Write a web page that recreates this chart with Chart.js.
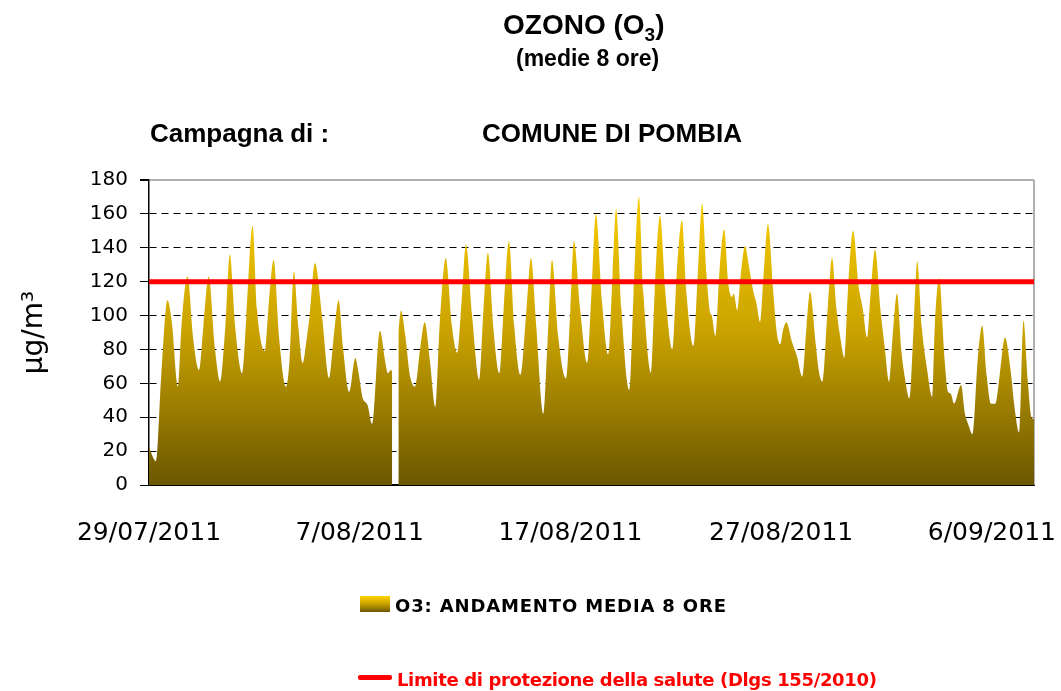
<!DOCTYPE html>
<html>
<head>
<meta charset="utf-8">
<title>Ozono - medie 8 ore</title>
<script src="https://cdn.jsdelivr.net/npm/chart.js@4/dist/chart.umd.min.js"></script>
<style>
  html, body { margin: 0; padding: 0; background: #fff; }
  body { width: 1061px; height: 691px; position: relative; overflow: hidden; }
  #chart { position: absolute; left: 0; top: 0; }
  .txt { position: absolute; white-space: nowrap; font-family: "Liberation Sans", Arial, sans-serif; font-weight: bold; color: #000; }
  #title { left: 503px; top: 11px; font-size: 28px; line-height: 28px; }
  #title span { font-size: 19px; position: relative; top: 7px; }
  #subtitle { left: 516px; top: 47px; font-size: 23px; line-height: 23px; }
  #campagna { left: 150px; top: 120px; font-size: 26px; line-height: 26px; }
  #comune { left: 482px; top: 120px; font-size: 26px; line-height: 26px; }
  .leg { position: absolute; white-space: nowrap; font-family: "DejaVu Sans", sans-serif; font-weight: bold; font-size: 18px; line-height: 18px; }
  #leg1 { left: 395px; top: 597px; color: #000; letter-spacing: 0.85px; }
  #leg2 { left: 397px; top: 671px; color: #ff0000; letter-spacing: -0.35px; }
  #sw1 { position: absolute; left: 360px; top: 596px; width: 30px; height: 16px; background: linear-gradient(#ffd200, #c9a200 50%, #6b5600); }
  #sw2 { position: absolute; left: 358px; top: 675px; width: 34px; height: 5px; background: #ff0000; border-radius: 2px; }
</style>
</head>
<body>
<canvas id="chart" width="1061" height="691"></canvas>
<div class="txt" id="title">OZONO (O<span>3</span>)</div>
<div class="txt" id="subtitle">(medie 8 ore)</div>
<div class="txt" id="campagna">Campagna di :</div>
<div class="txt" id="comune">COMUNE DI POMBIA</div>
<div id="sw1"></div><div class="leg" id="leg1"></div>
<div id="sw2"></div><div class="leg" id="leg2"></div>
<script>
// Ore dall'inizio della campagna (29/07/2011) e media mobile 8 ore di O3 (µg/m3)
const hours = [
  0, 8, 14, 21, 26, 33, 37, 44, 50, 57, 62, 68, 75, 81, 87, 92, 98, 106, 111, 118,
  123, 127, 132, 136, 142, 148, 156, 160, 165, 170, 175, 180, 183, 189, 197, 205, 210, 216, 221, 228,
  235, 239, 243, 249, 254, 263, 269, 272, 276, 277, 280, 284, 287, 292, 297, 303, 309, 314, 320, 326,
  331, 338, 345, 351, 356, 361, 368, 376, 381, 386, 392, 399, 404, 410, 416, 423, 430, 435, 441, 449,
  454, 459, 466, 475, 480, 484, 491, 499, 504, 509, 516, 523, 528, 532, 538, 547, 552, 558, 563, 572,
  576, 582, 588, 596, 601, 607, 612, 620, 625, 630, 635, 639, 641, 645, 650, 655, 660, 664, 666, 670,
  674, 679, 683, 688, 692, 696, 700, 705, 711, 715, 719, 722, 726, 732, 738, 744, 749, 753, 759, 763,
  767, 773, 778, 783, 788, 792, 796, 802, 808, 813, 818, 822, 827, 833, 838, 843, 847, 852, 857, 861,
  866, 871, 875, 880, 886, 892, 895, 900, 906, 910, 913, 917, 925, 929, 933, 938, 944, 949, 954, 959,
  964, 969, 975, 981, 986, 991, 996, 1001, 1005, 1008
];
const o3Values = [
  22, 14, 65, 109, 96, 58, 94, 123, 88, 68, 94, 123, 81, 61, 94, 136, 94, 66, 100, 153,
  104, 86, 79, 104, 133, 88, 58, 73, 126, 94, 72, 88, 100, 131, 100, 63, 85, 109, 81, 55,
  75, 65, 52, 47, 36, 91, 73, 66, 68, 66, null, 90, 103, 88, 65, 58, 81, 96, 73, 46,
  94, 134, 94, 78, 108, 142, 100, 62, 104, 137, 94, 66, 104, 144, 94, 65, 104, 134, 94, 42,
  85, 133, 88, 63, 104, 144, 104, 72, 114, 160, 108, 77, 124, 163, 104, 56, 114, 170, 114, 66,
  114, 159, 114, 80, 124, 156, 114, 82, 124, 166, 124, 102, 100, 88, 128, 151, 118, 111, 113, 103,
  124, 141, 130, 115, 107, 96, 124, 154, 114, 90, 83, 91, 96, 85, 76, 64, 94, 114, 85, 67,
  61, 104, 134, 104, 85, 75, 114, 150, 118, 104, 87, 114, 139, 104, 81, 61, 88, 113, 79, 63,
  51, 94, 132, 94, 69, 52, 94, 122, 75, 55, 54, 48, 59, 43, 36, 30, 75, 94, 65, 48,
  48, 65, 87, 69, 45, 31, 97, 61, 40, 39
];
const limitValue = 120;
const xTickHours = [0, 240, 480, 720, 960];
const xTickLabels = ['29/07/2011', '7/08/2011', '17/08/2011', '27/08/2011', '6/09/2011'];
const seriesLabels = ['O3: ANDAMENTO MEDIA 8 ORE', 'Limite di protezione della salute (Dlgs 155/2010)'];

const xMax = hours[hours.length - 1];

// Sfumatura oro -> bruno come nell'originale
function areaGradient(context) {
  const chart = context.chart;
  const area = chart.chartArea;
  if (!area) return '#c9a200';
  const g = chart.ctx.createLinearGradient(0, area.top, 0, area.bottom);
  g.addColorStop(0, '#ffd200');
  g.addColorStop(0.5, '#c9a200');
  g.addColorStop(1, '#6b5600');
  return g;
}

// Bordo destro grigio dell'area del grafico
const plotFrame = {
  id: 'plotFrame',
  beforeDatasetsDraw(chart) {
    const { ctx, chartArea: a } = chart;
    ctx.save();
    ctx.strokeStyle = '#b0b0b0';
    ctx.lineWidth = 2;
    ctx.beginPath();
    ctx.moveTo(a.right, a.top);
    ctx.lineTo(a.right, a.bottom);
    ctx.stroke();
    ctx.restore();
  }
};

const ctx = document.getElementById('chart').getContext('2d');
const chart = new Chart(ctx, {
  type: 'line',
  data: {
    datasets: [{
      label: seriesLabels[1],
      data: [{ x: 0, y: limitValue }, { x: xMax, y: limitValue }],
      borderColor: '#ff0000',
      borderWidth: 5,
      pointRadius: 0,
      fill: false,
      order: 0
    }, {
      label: seriesLabels[0],
      data: hours.map((h, i) => ({ x: h, y: o3Values[i] })),
      backgroundColor: areaGradient,
      borderWidth: 0,
      pointRadius: 0,
      fill: 'origin',
      spanGaps: false,
      cubicInterpolationMode: 'monotone',
      order: 1
    }]
  },
  options: {
    responsive: false,
    animation: false,
    devicePixelRatio: 1,
    layout: { padding: { left: 0, top: 180, right: 27, bottom: 106 } },
    plugins: {
      legend: { display: false },
      tooltip: { enabled: false }
    },
    scales: {
      x: {
        type: 'linear',
        min: 0,
        max: xMax,
        afterFit: s => { s.height = 100; s.paddingLeft = 0; s.paddingRight = 0; },
        afterBuildTicks: s => { s.ticks = xTickHours.map(v => ({ value: v })); },
        grid: { display: false, drawTicks: false },
        border: { display: true, color: '#000', width: 2 },
        ticks: {
          autoSkip: false,
          maxRotation: 0,
          padding: 33,
          color: '#000',
          font: { family: 'DejaVu Sans', size: 25 },
          callback: v => xTickLabels[xTickHours.indexOf(v)]
        }
      },
      y: {
        min: 0,
        max: 180,
        afterFit: s => { s.width = 149; },
        ticks: {
          stepSize: 20,
          padding: 12,
          color: '#000',
          font: { family: 'DejaVu Sans', size: 20 }
        },
        grid: {
          color: c => (c.tick && c.tick.value === 180) ? '#b0b0b0' : '#000',
          lineWidth: c => (c.tick && c.tick.value === 180) ? 2 : 1,
          tickColor: '#000',
          tickLength: 9,
          tickBorderDash: []
        },
        border: {
          display: true,
          color: '#000',
          width: 1.5,
          dash: c => (c.tick && c.tick.value > 0 && c.tick.value < 180) ? [7, 5] : []
        },
        title: {
          display: true,
          text: 'µg/m³',
          color: '#000',
          padding: { top: 18, bottom: 0 },
          font: { family: 'DejaVu Sans', size: 28 }
        }
      }
    }
  },
  plugins: [plotFrame]
});

document.getElementById('leg1').textContent = chart.data.datasets[1].label;
document.getElementById('leg2').textContent = chart.data.datasets[0].label;
</script>
</body>
</html>
